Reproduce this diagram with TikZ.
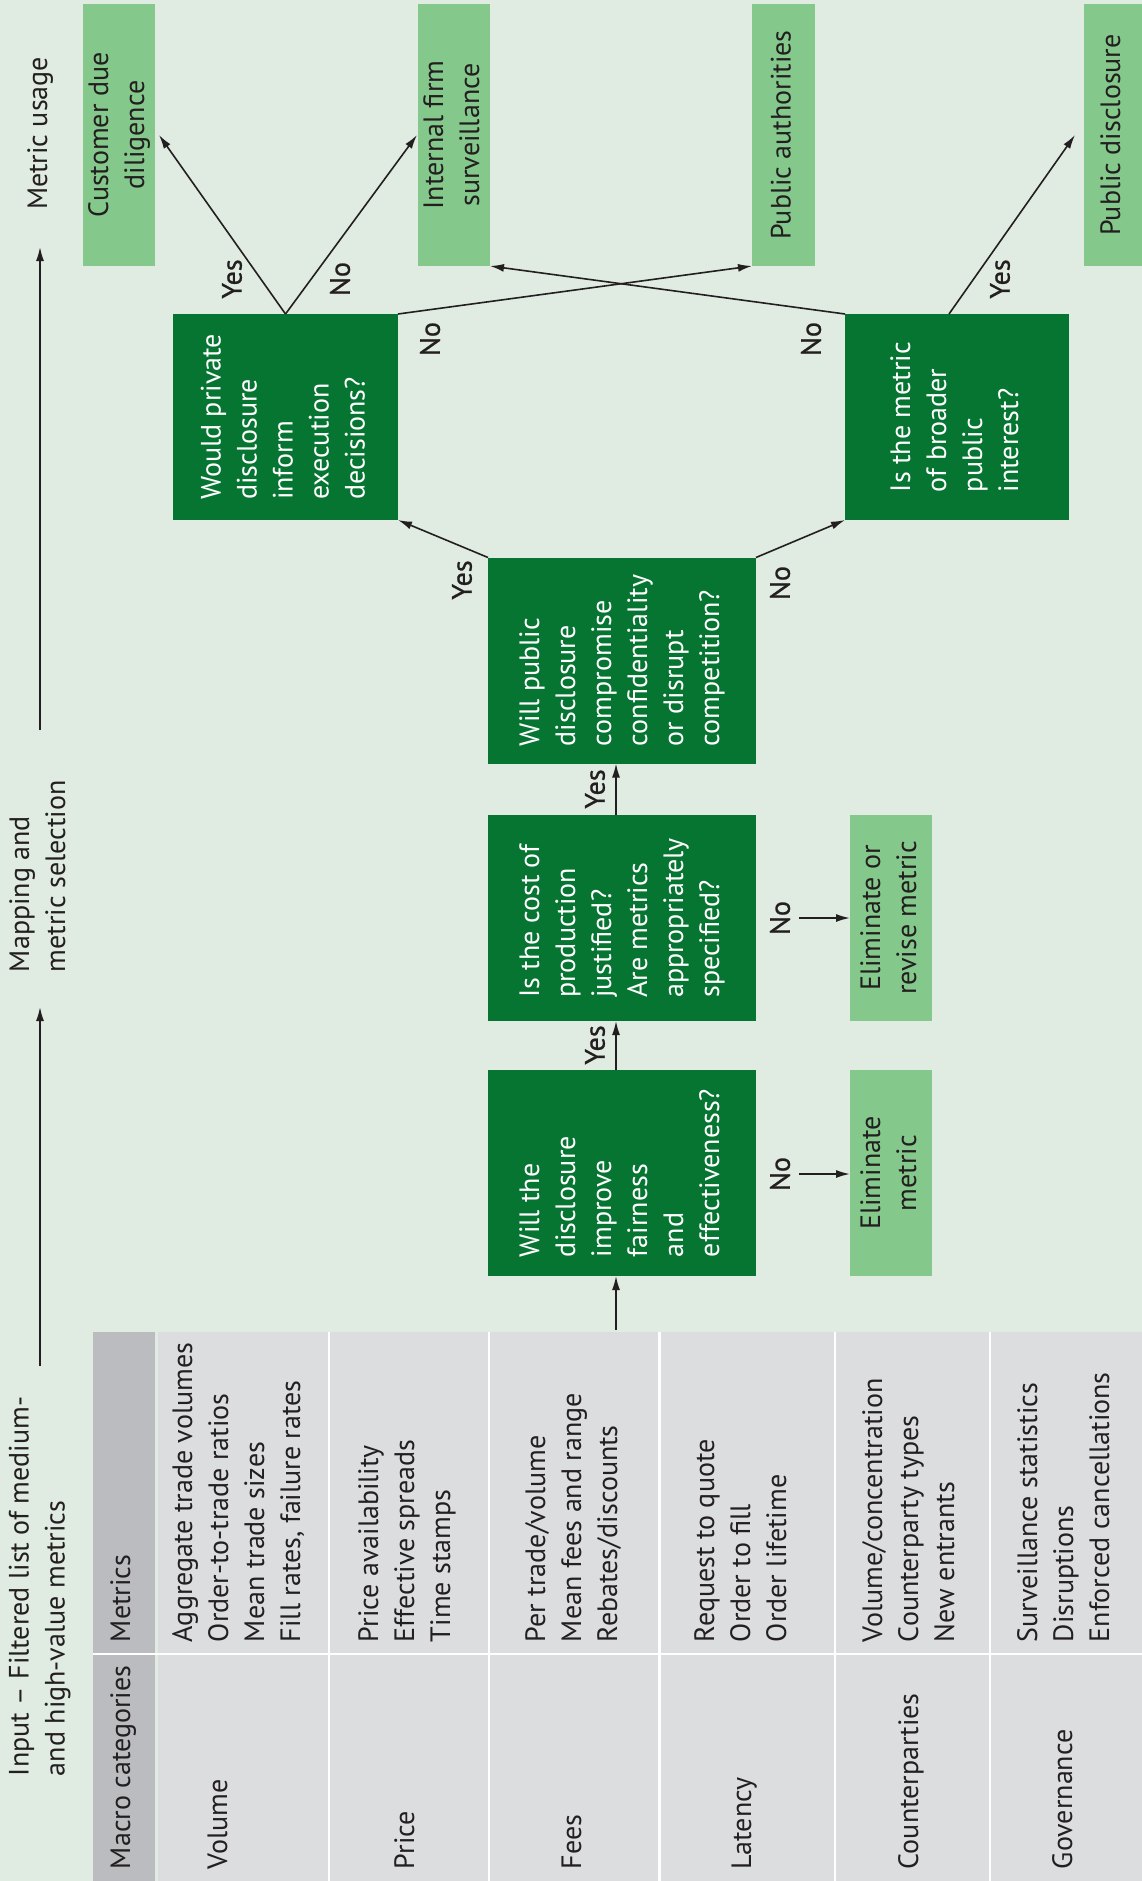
\documentclass[tikz,border=0pt]{standalone}
\usepackage{graphicx}
\usepackage{fontspec}
\setmainfont{PT Sans}
\newfontfamily\lblfont{PT Sans}[FakeBold=0.8]
\usetikzlibrary{arrows.meta,calc}
\definecolor{bg}{HTML}{E0EBE2}
\definecolor{dg}{HTML}{067532}
\definecolor{lg}{HTML}{84C98B}
\definecolor{tgray}{HTML}{DCDDDF}
\definecolor{hgray}{HTML}{BBBCBF}
\definecolor{ink}{HTML}{231F20}
\newcommand\rtl[1]{\rotatebox{90}{\begin{tabular}{@{}l@{}}#1\end{tabular}}}
\newcommand\rtc[1]{\rotatebox{90}{\begin{tabular}{@{}c@{}}#1\end{tabular}}}
\begin{document}
\begin{tikzpicture}[x=1pt,y=-1pt,
  every node/.style={inner sep=0pt, outer sep=0pt, text=ink, font=\fontsize{28}{36}\selectfont},
  qbox/.style={fill=dg, text=white, minimum width=268pt, minimum height=206pt},
  qsmall/.style={fill=dg, text=white, minimum height=206pt},
  ebox/.style={fill=lg, minimum width=82pt, minimum height=206pt},
  ubox/.style={fill=lg, minimum height=262pt},
  lbl/.style={font=\fontsize{28}{36}\lblfont},
  arr/.style={draw=ink, line width=1.6pt, -{Latex[length=14pt,width=8pt]}},
  plain/.style={draw=ink, line width=1.6pt}]
\useasboundingbox (0,0) rectangle (1142,1881);
\fill[bg] (0,0) rectangle (1142,1881);

% table
\fill[hgray] (93,1332) rectangle (155,1881);
\fill[tgray] (158,1332) rectangle (1142,1881);
\foreach \xx in {329,489,659.5,835,990} \draw[white, line width=2.5pt] (\xx,1332) -- (\xx,1881);
\draw[white, line width=2.5pt] (93,1654) -- (1142,1654);

\node[anchor=south] (hcat) at (123,1869) {\rtl{Macro categories}};
\node[anchor=south] (hmet) at (123,1642) {\rtl{Metrics}};
\node[anchor=south] (cvol) at (220,1869) {\rtl{Volume}};
\node[anchor=south] (cpri) at (407,1869) {\rtl{Price}};
\node[anchor=south] (cfee) at (574,1869) {\rtl{Fees}};
\node[anchor=south] (clat) at (744,1869) {\rtl{Latency}};
\node[anchor=south] (ccou) at (911,1869) {\rtl{Counterparties}};
\node[anchor=south] (cgov) at (1065,1869) {\rtl{Governance}};
\node[anchor=south] (mvol) at (239,1642) {\rtl{Aggregate trade volumes\\Order-to-trade ratios\\Mean trade sizes\\Fill rates, failure rates}};
\node[anchor=south] (mpri) at (407,1642) {\rtl{Price availability\\Effective spreads\\Time stamps}};
\node[anchor=south] (mfee) at (574,1642) {\rtl{Per trade/volume\\Mean fees and range\\Rebates/discounts}};
\node[anchor=south] (mlat) at (743,1642) {\rtl{Request to quote\\Order to fill\\Order lifetime}};
\node[anchor=south] (mcou) at (911,1642) {\rtl{Volume/concentration\\Counterparty types\\New entrants}};
\node[anchor=south] (mgov) at (1066,1642) {\rtl{Surveillance statistics\\Disruptions\\Enforced cancellations}};

% stage titles
\node[anchor=south] (t1) at (39.5,1776) {\rtl{Input -- Filtered list of medium-\\and high-value metrics}};
\node[anchor=south] (t2) at (40,972) {\rtl{Mapping and\\metric selection}};
\node[anchor=south] (t3) at (40,210) {\rtl{Metric usage}};
\coordinate (s1a) at (40,1366);
\coordinate (s1b) at (40,1007);
\coordinate (s2a) at (40,730);
\coordinate (s2b) at (40,247);
\draw[arr] (s1a) -- (s1b);
\draw[arr] (s2a) -- (s2b);

% decision boxes
\node[qbox] (b1) at (622,1173) {\rtl{Will the\\disclosure\\improve\\fairness\\and\\effectiveness?}};
\node[qbox] (b2) at (622,918) {\rtl{Is the cost of\\production\\justified?\\Are metrics\\appropriately\\specified?}};
\node[qbox] (b3) at (622,660.5) {\rtl{Will public\\disclosure\\compromise\\confidentiality\\or disrupt\\competition?}};
\node[qsmall, minimum width=225pt] (b4) at (285.5,417) {\rtl{Would private\\disclosure\\inform\\execution\\decisions?}};
\node[qsmall, minimum width=224pt] (b5) at (957,417) {\rtl{Is the metric\\of broader\\public\\interest?}};

% outcome boxes
\node[ebox] (e1) at (891,1173) {\rtc{Eliminate\\metric}};
\node[ebox] (e2) at (891,918) {\rtc{Eliminate or\\revise metric}};
\node[ubox, minimum width=72pt] (u1) at (119,135) {\rtc{Customer due\\diligence}};
\node[ubox, minimum width=72pt] (u2) at (454,135) {\rtc{Internal firm\\surveillance}};
\node[ubox, minimum width=63pt] (u3) at (783.5,135) {\rtc{Public authorities}};
\node[ubox, minimum width=58pt] (u4) at (1113,135) {\rtc{Public disclosure}};

% labels
\node[lbl] (ly1) at (595,1045) {\rotatebox{90}{Yes}};
\node[lbl] (ly2) at (595,789) {\rotatebox{90}{Yes}};
\node[lbl] (ln1) at (780,1174) {\rotatebox{90}{No}};
\node[lbl] (ln2) at (780,918) {\rotatebox{90}{No}};
\node[lbl] (ly3) at (462,580) {\rotatebox{90}{Yes}};
\node[lbl] (ln3) at (780,583) {\rotatebox{90}{No}};
\node[lbl] (ly4) at (232,279) {\rotatebox{90}{Yes}};
\node[lbl] (ln4) at (340,279) {\rotatebox{90}{No}};
\node[lbl] (ln5) at (430,339) {\rotatebox{90}{No}};
\node[lbl] (ln6) at (811,339) {\rotatebox{90}{No}};
\node[lbl] (ly5) at (1000,279) {\rotatebox{90}{Yes}};

% connectors
\coordinate (tin) at (616,1330);
\draw[arr] (tin) -- (tin |- b1.south);
\draw[arr] (tin |- b1.north) -- (tin |- b2.south);
\draw[arr] (tin |- b2.north) -- (tin |- b3.south);
\coordinate (n1) at (799,1174);
\coordinate (n2) at (799,918);
\draw[arr] (n1) -- (n1 -| e1.west);
\draw[arr] (n2) -- (n2 -| e2.west);
\draw[arr] (b3.north west) -- (b4.south east);
\draw[arr] (b3.north east) -- (b5.south west);
\draw[arr] (b4.north) -- ($(u1.east)+(4,0)$);
\draw[arr] (b4.north) -- ($(u2.west)+(-1,0)$);
\draw[arr] (b4.north east) -- (u3.south west);
\draw[arr] (b5.north west) -- (u2.south east);
\draw[arr] ($(b5.north)+(-8,0)$) -- ($(u4.west)+(-9,0)$);
\end{tikzpicture}
\end{document}
